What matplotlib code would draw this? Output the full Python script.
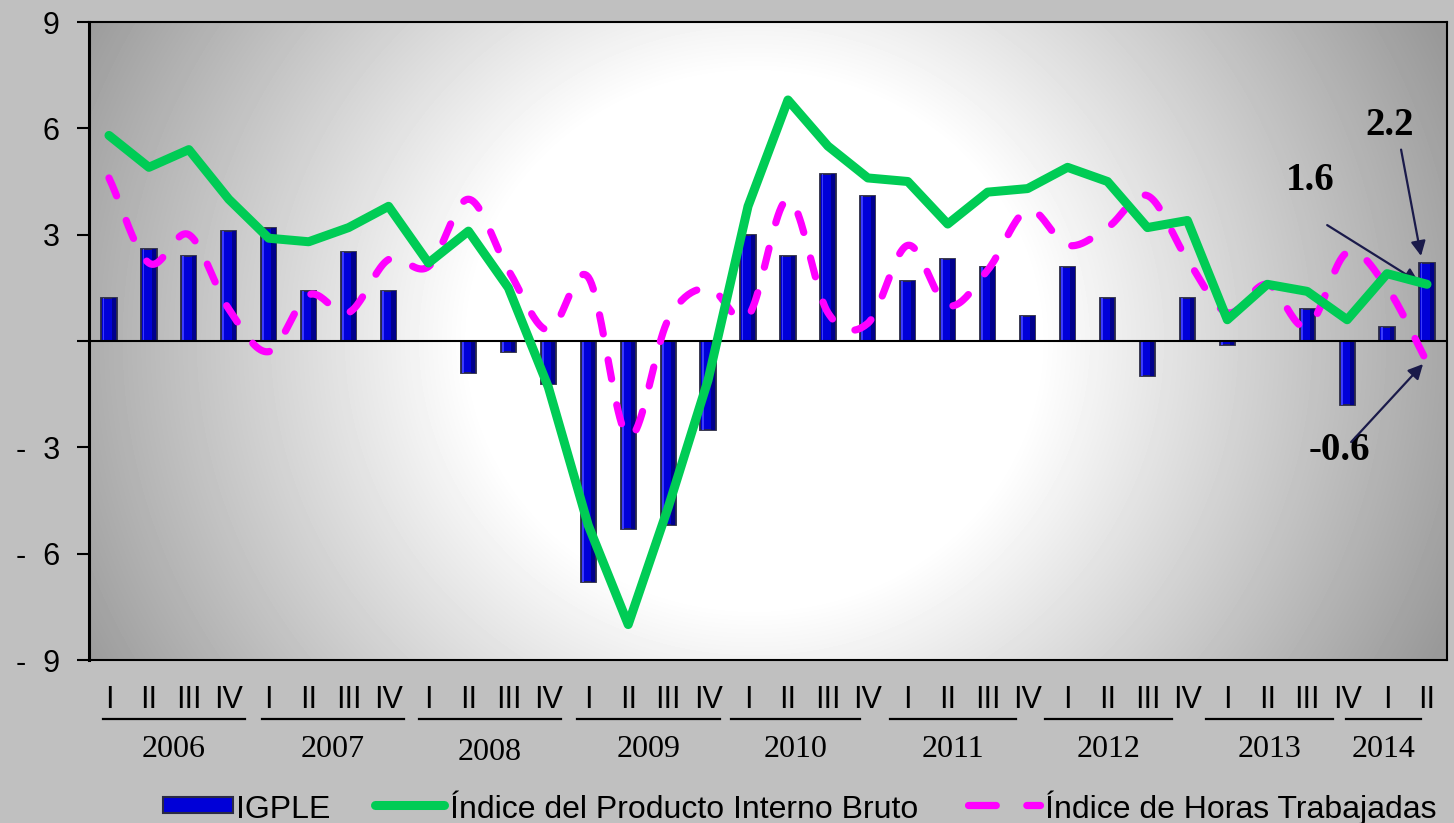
import numpy as np
import matplotlib
matplotlib.use('Agg')
import matplotlib.pyplot as plt
import matplotlib.transforms as mtransforms
from matplotlib.patches import Rectangle
from matplotlib.lines import Line2D

# ---------------- data ----------------
quarters = ['I', 'II', 'III', 'IV'] * 8 + ['I', 'II']
years = ['2006', '2007', '2008', '2009', '2010', '2011', '2012', '2013', '2014']
igple = [1.2, 2.6, 2.4, 3.1, 3.2, 1.4, 2.5, 1.4, 0.0, -0.9, -0.3, -1.2,
         -6.8, -5.3, -5.2, -2.5, 3.0, 2.4, 4.7, 4.1, 1.7, 2.3, 2.1, 0.7,
         2.1, 1.2, -1.0, 1.2, -0.1, 0.0, 0.9, -1.8, 0.4, 2.2]
pib = [5.8, 4.9, 5.4, 4.0, 2.9, 2.8, 3.2, 3.8, 2.2, 3.1, 1.5, -1.3,
       -5.2, -8.0, -4.7, -1.1, 3.8, 6.8, 5.5, 4.6, 4.5, 3.3, 4.2, 4.3,
       4.9, 4.5, 3.2, 3.4, 0.6, 1.6, 1.4, 0.6, 1.9, 1.6]
horas = [4.6, 2.2, 3.0, 0.9, -0.3, 1.3, 0.8, 2.3, 2.1, 4.0, 2.0, 0.3,
         1.8, -2.7, 0.6, 1.5, 0.7, 4.0, 0.8, 0.5, 2.7, 1.0, 2.0, 3.7,
         2.7, 3.2, 4.1, 2.3, 0.8, 1.6, 0.4, 2.5, 1.5, -0.6]
yticks = [9, 6, 3, 0, -3, -6, -9]
yticklabels = ['9', '6', '3', '', '-  3', '-  6', '-  9']
series_names = ['IGPLE', 'Índice del Producto Interno Bruto', 'Índice de Horas Trabajadas']
last_labels = ['2.2', '1.6', '-0.6']

# layout (category units) of the year underlines
year_spans = [(-0.15, 3.41), (3.83, 7.39), (7.76, 11.32), (11.72, 15.30),
              (15.57, 18.80), (19.56, 22.71), (23.44, 26.62), (27.47, 30.65),
              (30.98, 32.86)]
year_baselines = [757, 757, 760, 757, 757, 757, 757, 757, 757]

W, H = 1454, 823
BG = '#C0C0C0'
fig = plt.figure(figsize=(W / 100, H / 100), dpi=100, facecolor=BG)

def fx(px):
    return px / W

def fy(py):
    return 1 - py / H

ax = fig.add_axes([fx(89), fy(660), fx(1447) - fx(89), fy(22) - fy(660)])
ax.set_facecolor('white')

# gradient background of plot area
gx = np.linspace(0, 1, 400)
gy = np.linspace(0, 1, 200)
GX, GY = np.meshgrid(gx, gy)
u = (GX - 0.49) / 0.5
v = (GY - 0.5) / 0.5
d = np.sqrt(u ** 2 + (0.5 * v) ** 2)
c = np.clip((d - 0.42) / (1.12 - 0.42), 0, 1)
gray = 1 - c * 0.40
ax.imshow(gray, cmap='gray', vmin=0, vmax=1, extent=[0, 1, 0, 1],
          transform=ax.transAxes, aspect='auto', zorder=0, interpolation='bilinear')

x = np.arange(len(quarters))

# bars
bw = 0.38
ax.bar(x, igple, width=bw, color='#0000D8', edgecolor='#2a2a44', linewidth=1.3, zorder=2)
ax.bar(x + bw * 0.32, igple, width=bw * 0.28, color='#00008C', linewidth=0, zorder=2.1)
ax.bar(x - bw * 0.36, igple, width=bw * 0.12, color='#3a3aff', linewidth=0, zorder=2.1)


def catmull_rom(xs, ys, n=24):
    P = np.column_stack([xs, ys]).astype(float)
    P = np.vstack([2 * P[0] - P[1], P, 2 * P[-1] - P[-2]])
    out = []
    t = np.linspace(0, 1, n, endpoint=False)[:, None]
    for i in range(1, len(P) - 2):
        p0, p1, p2, p3 = P[i - 1], P[i], P[i + 1], P[i + 2]
        pts = 0.5 * ((2 * p1) + (-p0 + p2) * t + (2 * p0 - 5 * p1 + 4 * p2 - p3) * t ** 2
                     + (-p0 + 3 * p1 - 3 * p2 + p3) * t ** 3)
        out.append(pts)
    out.append(P[-2][None, :])
    return np.vstack(out)

plt.rcParams['lines.scale_dashes'] = False
sm = catmull_rom(x, horas)
ax.plot(sm[:, 0], sm[:, 1], color='#FF00FF', lw=5.2, linestyle=(0, (14, 19)),
        dash_capstyle='round', zorder=3)
ax.plot(x, pib, color='#00CC55', lw=6.5, solid_capstyle='round',
        solid_joinstyle='round', zorder=4)

ax.axhline(0, color='black', lw=1.5, zorder=2.5)

ax.set_xlim(-0.5, len(quarters) - 0.5)
ax.set_ylim(-9, 9)
ax.set_yticks(yticks)
ax.set_yticklabels(yticklabels, fontsize=22, family=['Liberation Sans', 'DejaVu Sans'])
ax.tick_params(axis='y', direction='out', length=9, width=1.5, pad=12, colors='black')
ax.set_xticks([])
for s in ax.spines.values():
    s.set_color('black')
    s.set_linewidth(1.5)
ax.spines['left'].set_linewidth(2.2)

# x labels: quarters, underlines, years
trans = mtransforms.blended_transform_factory(ax.transData, fig.transFigure)
narrow = ['Liberation Sans Narrow', 'Liberation Sans', 'DejaVu Sans']
for i, q in enumerate(quarters):
    ax.text(i, fy(708), q, transform=trans, ha='center', va='baseline',
            fontsize=22, family=narrow, color='black', clip_on=False)
for (a, b), yr, yb in zip(year_spans, years, year_baselines):
    ax.add_line(Line2D([a, b], [fy(719), fy(719)], transform=trans, color='black',
                       lw=1.6, clip_on=False))
    ax.text((a + b) / 2, fy(yb), yr, transform=trans, ha='center', va='baseline',
            fontsize=23, family=['Liberation Serif', 'DejaVu Serif'], color='black',
            clip_on=False)

# annotations for last values
ann_font = dict(fontsize=28, fontweight='bold', family=['Liberation Serif', 'DejaVu Serif'],
                color='black')
arrow_kw = dict(arrowstyle='-|>', color='#1a1a4a', lw=1.6, mutation_scale=22,
                shrinkA=0, shrinkB=0)
last = len(quarters) - 1
ax.text(32.07, 6.09, last_labels[0], ha='center', va='center', **ann_font)
ax.annotate('', xy=(last - 0.15, igple[-1] + 0.2), xytext=(32.35, 5.4), arrowprops=arrow_kw)
ax.text(30.07, 4.54, last_labels[1], ha='center', va='center', **ann_font)
ax.annotate('', xy=(last - 0.2, pib[-1] + 0.05), xytext=(30.5, 3.27), arrowprops=arrow_kw)
ax.text(30.8, -3.1, last_labels[2], ha='center', va='center', **ann_font)
ax.annotate('', xy=(last - 0.1, horas[-1] - 0.05), xytext=(31.1, -2.85), arrowprops=arrow_kw)

# legend (manual)
leg_font = dict(fontsize=23, family=['Liberation Sans', 'DejaVu Sans'], color='black',
                va='baseline', ha='left')
fig.patches.append(Rectangle((fx(163), fy(813)), fx(233) - fx(163), fy(797) - fy(813),
                             transform=fig.transFigure, facecolor='#0000D8',
                             edgecolor='#2a2a44', lw=1.5))
fig.text(fx(236), fy(818), series_names[0], **leg_font)
fig.lines.append(Line2D([fx(375), fx(444)], [fy(805), fy(805)], transform=fig.transFigure,
                        color='#00CC55', lw=6.5, solid_capstyle='round'))
fig.text(fx(450), fy(818), series_names[1], **leg_font)
fig.lines.append(Line2D([fx(968), fx(1040)], [fy(805), fy(805)], transform=fig.transFigure,
                        color='#FF00FF', lw=5.2, linestyle=(0, (20, 22)),
                        dash_capstyle='round'))
fig.text(fx(1045), fy(818), series_names[2], **leg_font)

fig.savefig('out.png', dpi=100, facecolor=BG)
